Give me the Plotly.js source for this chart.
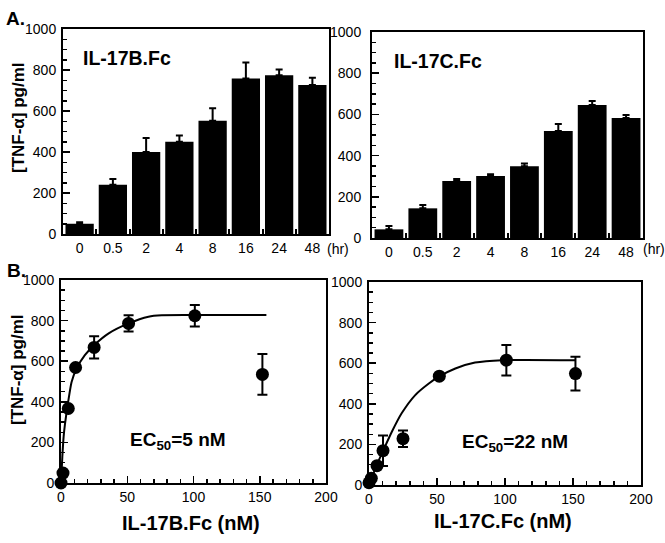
<!DOCTYPE html>
<html>
<head>
<meta charset="utf-8">
<script src="https://cdn.plot.ly/plotly-3.0.1.min.js"></script>
<style>html,body{margin:0;padding:0;background:#fff;}#chart{width:665px;height:543px;}</style>
</head>
<body>
<div id="chart"></div>
<script>
// ---- Data ----
const hourLabels = ['0', '0.5', '2', '4', '8', '16', '24', '48'];
const il17bTime = [50, 240, 400, 450, 553, 758, 774, 727];
const il17bTimeErr = [7, 28, 68, 30, 60, 78, 28, 35];
const il17cTime = [42, 144, 277, 301, 348, 519, 646, 583];
const il17cTimeErr = [16, 16, 9, 8, 14, 34, 19, 14];

const doseB = [0, 1.5, 5.5, 11, 25, 51, 101, 152];
const respB = [0, 49, 367, 569, 668, 786, 824, 535];
const errB = [0, 0, 0, 0, 55, 40, 53, 100];
const fitBx = [0, 1, 2, 3, 4.5, 8, 12, 18, 25, 36, 51, 66, 76, 100, 155];
const fitBy = [0, 130, 230, 290, 360, 498, 567, 630, 679, 737, 786, 819, 826, 827, 827];

const doseC = [0, 1.7, 5.9, 10.3, 25, 51.7, 101, 151.8];
const respC = [11, 33, 95, 169, 228, 536, 615, 549];
const errC = [0, 0, 0, 75, 41, 0, 75, 83];
const fitCx = [0, 5.7, 10.6, 16.8, 24, 34, 44, 52, 63.5, 78, 98, 152];
const fitCy = [0, 98, 172, 262, 353, 443, 500, 536, 574, 603, 615, 615];

const yTickVals = [0, 200, 400, 600, 800, 1000];
const xDoseTickVals = [0, 50, 100, 150, 200];

// ---- Helpers ----
const W = 665, H = 543;
const px = v => v / W;
const py = v => 1 - v / H;
const FONT = 'Liberation Sans, Arial, Helvetica, sans-serif';

function barTrace(y, err, xa, ya) {
  return {
    type: 'bar', x: hourLabels, y: y, xaxis: xa, yaxis: ya,
    marker: {color: '#000', line: {width: 0}},
    error_y: {type: 'data', symmetric: false, array: err, arrayminus: err.map(() => 0),
              color: '#000', thickness: 2, width: 3.5},
    hoverinfo: 'skip', showlegend: false
  };
}
function pointTrace(x, y, err, xa, ya) {
  return {
    type: 'scatter', mode: 'markers', x: x, y: y, xaxis: xa, yaxis: ya,
    marker: {color: '#000', size: 13},
    error_y: {type: 'data', array: err, color: '#000', thickness: 2, width: 5},
    cliponaxis: false, showlegend: false
  };
}
function fitTrace(x, y, xa, ya) {
  return {
    type: 'scatter', mode: 'lines', x: x, y: y, xaxis: xa, yaxis: ya,
    line: {color: '#000', width: 2, shape: 'spline', smoothing: 0.6},
    cliponaxis: false, showlegend: false
  };
}

const data = [
  barTrace(il17bTime, il17bTimeErr, 'x', 'y'),
  barTrace(il17cTime, il17cTimeErr, 'x2', 'y2'),
  fitTrace(fitBx, fitBy, 'x3', 'y3'),
  pointTrace(doseB, respB, errB, 'x3', 'y3'),
  fitTrace(fitCx, fitCy, 'x4', 'y4'),
  pointTrace(doseC, respC, errC, 'x4', 'y4')
];

function yAxis(domain, anchor, standoff) {
  return {
    domain: domain, anchor: anchor, range: [0, 1000], tickvals: yTickVals,
    ticks: 'inside', ticklen: 7, tickwidth: 1.5, tickcolor: '#000',
    minor: {dtick: 50, tick0: 0, ticks: 'inside', ticklen: 4, tickwidth: 1.5, tickcolor: '#000', showgrid: false},
    showline: true, linewidth: 2, linecolor: '#000', mirror: true,
    showgrid: false, zeroline: false, fixedrange: true,
    tickfont: {family: FONT, size: 14, color: '#000'}, ticklabelstandoff: standoff
  };
}
function catAxis(domain, anchor) {
  return {
    domain: domain, anchor: anchor, type: 'category', range: [-0.5, 7.5],
    tickson: 'boundaries', ticks: 'inside', ticklen: 5, tickwidth: 2, tickcolor: '#000',
    showline: true, linewidth: 2, linecolor: '#000', mirror: true,
    showgrid: false, zeroline: false, fixedrange: true,
    tickfont: {family: FONT, size: 14, color: '#000'}
  };
}
function doseAxis(domain, anchor) {
  return {
    domain: domain, anchor: anchor, range: [0, 200], tickvals: xDoseTickVals,
    ticks: 'inside', ticklen: 7, tickwidth: 1.5, tickcolor: '#000',
    minor: {dtick: 10, tick0: 0, ticks: 'inside', ticklen: 4, tickwidth: 1.5, tickcolor: '#000', showgrid: false},
    showline: true, linewidth: 2, linecolor: '#000', mirror: true,
    showgrid: false, zeroline: false, fixedrange: true,
    tickfont: {family: FONT, size: 14, color: '#000'}
  };
}

function ann(text, x, y, size, opts) {
  return Object.assign({
    text: text, x: x, y: y, xref: 'paper', yref: 'paper', showarrow: false,
    xanchor: 'center', yanchor: 'middle',
    font: {family: FONT, size: size, color: '#000'}
  }, opts || {});
}

const layout = {
  width: W, height: H,
  margin: {l: 0, r: 0, t: 0, b: 0},
  paper_bgcolor: '#fff', plot_bgcolor: '#fff',
  bargap: 0.15, showlegend: false,
  xaxis: catAxis([px(63), px(329)], 'y'),
  yaxis: yAxis([py(234), py(29)], 'x', 2),
  xaxis2: catAxis([px(372), px(643)], 'y2'),
  yaxis2: yAxis([py(238), py(32)], 'x2', 6),
  xaxis3: doseAxis([px(61), px(326)], 'y3'),
  yaxis3: yAxis([py(483), py(280)], 'x3', 2),
  xaxis4: doseAxis([px(369), px(641)], 'y4'),
  yaxis4: yAxis([py(485), py(282)], 'x4', 2),
  annotations: [
    ann('<b>A.</b>', px(4), py(18), 19, {xanchor: 'left'}),
    ann('<b>B.</b>', px(5), py(270), 19, {xanchor: 'left'}),
    ann('<b>IL-17B.Fc</b>', px(126.5), py(58), 19.5),
    ann('<b>IL-17C.Fc</b>', px(437.5), py(61), 19.5),
    ann('(hr)', px(325), py(249), 14, {xanchor: 'left'}),
    ann('(hr)', px(641), py(249), 14, {xanchor: 'left'}),
    ann('<b>[TNF-α] pg/ml</b>', px(18), py(118), 17, {textangle: -90}),
    ann('<b>[TNF-α] pg/ml</b>', px(17), py(370), 17, {textangle: -90}),
    ann('<b>EC<sub>50</sub>=5 nM</b>', px(177.5), py(441), 19),
    ann('<b>EC<sub>50</sub>=22 nM</b>', px(515), py(443), 19),
    ann('<b>IL-17B.Fc (nM)</b>', px(191), py(523), 20),
    ann('<b>IL-17C.Fc (nM)</b>', px(502.5), py(521), 20)
  ]
};

Plotly.newPlot('chart', data, layout, {displayModeBar: false, staticPlot: true});
</script>
</body>
</html>
